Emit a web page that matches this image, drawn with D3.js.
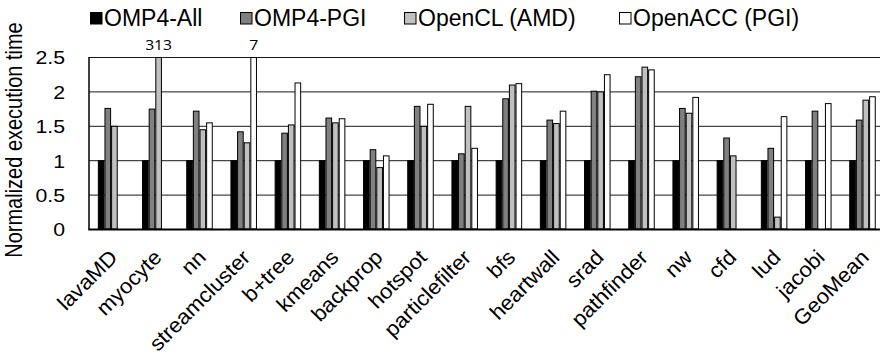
<!DOCTYPE html>
<html>
<head>
<meta charset="utf-8">
<script src="https://cdn.jsdelivr.net/npm/d3@7"></script>
<style>
  body { margin: 0; background: #fff; }
  svg text { font-family: "Liberation Sans", Arial, sans-serif; fill: #000; }
</style>
</head>
<body>
<div id="chart"></div>
<script>
// benchmark names along the x axis
const categories = ["lavaMD", "myocyte", "nn", "streamcluster", "b+tree", "kmeans", "backprop",
    "hotspot", "particlefilter", "bfs", "heartwall", "srad", "pathfinder", "nw", "cfd", "lud",
    "jacobi", "GeoMean"];

const seriesNames = ["OMP4-All", "OMP4-PGI", "OpenCL (AMD)", "OpenACC (PGI)"];

// normalized execution time per series (null = no bar)
const omp4All    = [1, 1, 1, 1, 1, 1, 1, 1, 1, 1, 1, 1, 1, 1, 1, 1, 1, 1];
const omp4Pgi    = [1.76, 1.75, 1.72, 1.42, 1.40, 1.62, 1.16, 1.79, 1.10, 1.90, 1.59, 2.01, 2.22, 1.76, 1.33, 1.18, 1.72, 1.59];
const openclAmd  = [1.50, 313, 1.45, 1.26, 1.52, 1.55, 0.90, 1.50, 1.79, 2.10, 1.54, 2.00, 2.36, 1.69, 1.07, 0.18, null, 1.88];
const openaccPgi = [null, null, 1.55, 7, 2.13, 1.61, 1.07, 1.82, 1.18, 2.12, 1.72, 2.25, 2.32, 1.92, null, 1.64, 1.83, 1.93];

const yTicks = [0, 0.5, 1, 1.5, 2, 2.5];

const allSeries = [omp4All, omp4Pgi, openclAmd, openaccPgi];
const fills = ["#000000", "#808080", "#c0c0c0", "#ffffff"];

const width = 880, height = 360;
const margin = {top: 57, left: 89, bottom: 131};
const yMax = 2.5;
// the original picture is a bit wider than tall, text glyphs too
const stretch = 1.12;

const svg = d3.select("#chart").append("svg")
    .attr("width", width)
    .attr("height", height);

const xScale = d3.scaleBand()
    .domain(categories)
    .range([margin.left, margin.left + 44.2 * categories.length])
    .paddingInner(0.4)
    .paddingOuter(0.2);

const subScale = d3.scaleBand()
    .domain(seriesNames)
    .range([0, xScale.bandwidth()]);

const yScale = d3.scaleLinear()
    .domain([0, yMax])
    .range([height - margin.bottom, margin.top])
    .clamp(true);

// gridlines
svg.append("g").attr("class", "grid")
    .selectAll("line")
    .data(yTicks.filter(d => d > 0))
    .join("line")
    .attr("x1", margin.left)
    .attr("x2", width)
    .attr("y1", d => yScale(d) + 0.5)
    .attr("y2", d => yScale(d) + 0.5)
    .attr("stroke", "#1a1a1a")
    .attr("stroke-width", 1);

// y tick labels
const yAxis = svg.append("g")
    .attr("transform", "translate(" + margin.left + ",0)")
    .call(d3.axisLeft(yScale).tickValues(yTicks).tickFormat(d => d).tickSize(0));
yAxis.select(".domain").remove();
yAxis.selectAll("text")
    .attr("x", 0)
    .attr("dy", "0.36em")
    .attr("transform", "translate(-24,0) scale(" + stretch + ",1)")
    .style("font-size", "19px");

// bars
const rows = categories.map((c, i) => ({name: c, values: allSeries.map((s, j) => ({series: seriesNames[j], idx: j, value: s[i]}))}));

const groupG = svg.append("g").selectAll("g")
    .data(rows)
    .join("g")
    .attr("transform", d => "translate(" + xScale(d.name) + ",0)");

groupG.selectAll("rect")
    .data(d => d.values.filter(v => v.value != null))
    .join("rect")
    .attr("x", d => subScale(d.series) + 0.5)
    .attr("y", d => yScale(d.value) + 0.5)
    .attr("width", subScale.bandwidth() - 1)
    .attr("height", d => yScale(0) - yScale(d.value) - 0.5)
    .attr("fill", d => fills[d.idx])
    .attr("stroke", "#000")
    .attr("stroke-width", 1);

// labels over bars that run off the top
groupG.selectAll(".overLabel")
    .data(d => d.values.filter(v => v.value != null && v.value > yMax))
    .join("text")
    .attr("class", "overLabel")
    .attr("transform", d => "translate(" + (subScale(d.series) + subScale.bandwidth() / 2) + "," + 50 + ") scale(1.05,1)")
    .attr("text-anchor", "middle")
    .style("font-size", "15px")
    .style("font-family", "'Open Sans', sans-serif")
    .text(d => d.value);

// axis lines
svg.append("line")
    .attr("x1", margin.left).attr("x2", margin.left)
    .attr("y1", margin.top).attr("y2", yScale(0))
    .attr("stroke", "#000").attr("stroke-width", 1.5);
svg.append("line")
    .attr("x1", margin.left - 0.75).attr("x2", width)
    .attr("y1", yScale(0) + 0.5).attr("y2", yScale(0) + 0.5)
    .attr("stroke", "#000").attr("stroke-width", 2);

// x labels, rotated 45 degrees
svg.append("g").selectAll("text")
    .data(categories)
    .join("text")
    .attr("text-anchor", "end")
    .attr("transform", d => "translate(" + (xScale(d) + xScale.bandwidth() / 2 - 3) + "," + 248 + ") rotate(-45) scale(1.05,1)")
    .attr("dy", "0.72em")
    .style("font-size", "21px")
    .text(d => d);

// y title
svg.append("text")
    .attr("transform", "translate(22,140) scale(1.17,1) rotate(-90)")
    .attr("text-anchor", "middle")
    .style("font-size", "20px")
    .text("Normalized execution time");

// legend
const legendX = [90, 240, 404, 619];
const legend = svg.append("g").selectAll("g")
    .data(seriesNames)
    .join("g")
    .attr("transform", (d, i) => "translate(" + legendX[i] + ",0)");
legend.append("rect")
    .attr("x", 0.5).attr("y", 12.5)
    .attr("width", 11.5).attr("height", 11.5)
    .attr("fill", (d, i) => fills[i])
    .attr("stroke", "#000").attr("stroke-width", 1);
legend.append("text")
    .attr("x", 14).attr("y", 26)
    .style("font-size", "23px")
    .text(d => d);
</script>
</body>
</html>
